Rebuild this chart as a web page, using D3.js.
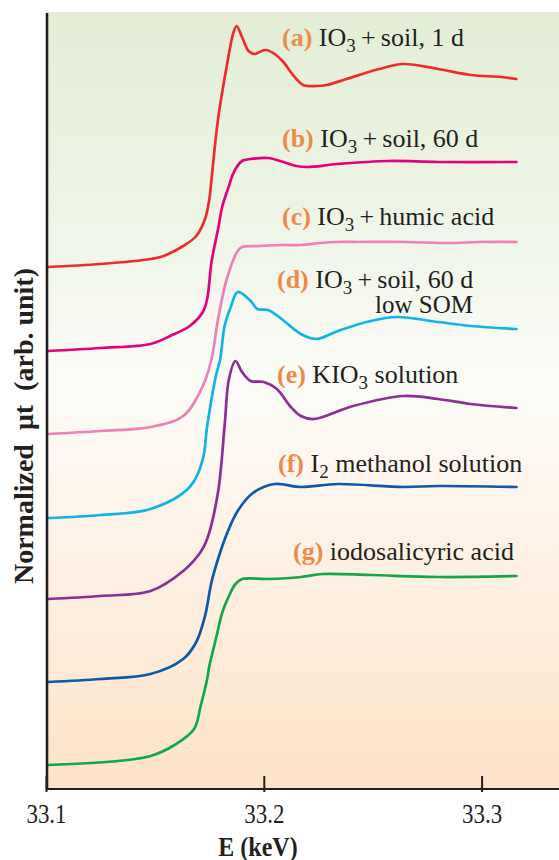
<!DOCTYPE html>
<html>
<head>
<meta charset="utf-8">
<script src="https://cdn.jsdelivr.net/npm/d3@7"></script>
<style>
  html, body { margin: 0; padding: 0; background: #ffffff; }
  svg { display: block; }
  text { font-family: "Liberation Serif", "Times New Roman", serif; fill: #231f20; }
</style>
</head>
<body>
<svg id="chart" width="559" height="860"></svg>
<script>
// ---------- DATA (energy in keV, normalized absorption in arbitrary units incl. vertical offset) ----------
const seriesA_E  = [33.101,33.125,33.148,33.154,33.163,33.169,33.173,33.175,33.176,33.179,33.183,33.186,33.1875,33.190,33.193,33.196,33.198,33.201,33.205,33.209,33.212,33.215,33.218,33.224,33.229,33.238,33.253,33.264,33.280,33.295,33.309,33.316];
const seriesA_mu = [5.22,5.25,5.30,5.33,5.43,5.53,5.70,5.90,6.10,6.70,7.23,7.56,7.63,7.52,7.38,7.35,7.37,7.39,7.35,7.27,7.18,7.10,7.04,7.03,7.04,7.10,7.20,7.25,7.20,7.14,7.12,7.10];

const seriesB_E  = [33.101,33.125,33.148,33.157,33.166,33.172,33.174,33.176,33.179,33.181,33.184,33.185,33.187,33.190,33.194,33.202,33.209,33.215,33.220,33.234,33.257,33.280,33.316];
const seriesB_mu = [4.38,4.41,4.45,4.53,4.63,4.77,4.90,5.27,5.60,5.83,6.03,6.10,6.20,6.28,6.30,6.31,6.27,6.23,6.22,6.25,6.28,6.27,6.27];

const seriesC_E  = [33.101,33.125,33.148,33.163,33.172,33.176,33.179,33.183,33.188,33.190,33.198,33.209,33.217,33.226,33.234,33.244,33.264,33.286,33.299,33.316];
const seriesC_mu = [3.55,3.58,3.62,3.73,4.03,4.30,4.70,5.10,5.38,5.42,5.43,5.44,5.44,5.46,5.47,5.47,5.47,5.46,5.47,5.47];

const seriesD_E  = [33.101,33.125,33.148,33.166,33.172,33.174,33.178,33.180,33.182,33.185,33.188,33.194,33.197,33.202,33.207,33.217,33.224,33.234,33.249,33.261,33.280,33.295,33.316];
const seriesD_mu = [2.71,2.74,2.80,3.02,3.30,3.63,4.13,4.30,4.63,4.83,4.97,4.88,4.80,4.79,4.72,4.55,4.50,4.58,4.68,4.72,4.67,4.63,4.60];

const seriesE_E  = [33.101,33.125,33.148,33.163,33.171,33.174,33.179,33.182,33.184,33.187,33.190,33.194,33.200,33.206,33.212,33.217,33.223,33.241,33.264,33.280,33.295,33.316];
const seriesE_mu = [1.90,1.93,1.98,2.18,2.37,2.50,2.97,3.63,4.10,4.28,4.17,4.08,4.07,4.00,3.83,3.73,3.70,3.83,3.93,3.90,3.85,3.81];

const seriesF_E  = [33.101,33.125,33.148,33.163,33.169,33.173,33.176,33.179,33.183,33.188,33.195,33.205,33.217,33.234,33.264,33.280,33.316];
const seriesF_mu = [1.07,1.10,1.15,1.30,1.47,1.73,2.07,2.30,2.55,2.78,2.96,3.05,3.02,3.05,3.02,3.03,3.02];

const seriesG_E  = [33.101,33.133,33.148,33.159,33.168,33.171,33.174,33.175,33.178,33.181,33.184,33.187,33.190,33.202,33.217,33.227,33.249,33.280,33.316];
const seriesG_mu = [0.24,0.28,0.33,0.44,0.60,0.83,1.10,1.23,1.50,1.77,1.93,2.05,2.10,2.10,2.12,2.15,2.14,2.12,2.13];

const seriesColors = ["#ee2b2e","#e5007d","#ef7fb6","#12b3e6","#8b2f97","#0b59a8","#10a84b"];
const seriesLetters = ["(a)","(b)","(c)","(d)","(e)","(f)","(g)"];
const xTickValues = [33.1, 33.2, 33.3];
const xTickLabels = ["33.1","33.2","33.3"];
const xTitle = "E (keV)";
const yTitle = "Normalized  \u03bct  (arb. unit)";

// ---------- SETUP ----------
const svg = d3.select("#chart");
const W = 559, H = 860;
const plot = { left: 46, right: 560, top: 12, bottom: 789 };

const x = d3.scaleLinear().domain([33.1, 33.336]).range([plot.left, plot.right]);
const y = d3.scaleLinear().domain([0, 7.77]).range([plot.bottom, plot.top]);

// background gradient
const defs = svg.append("defs");
const grad = defs.append("linearGradient").attr("id", "bg").attr("x1", 0).attr("y1", 0).attr("x2", 0).attr("y2", 1);
grad.append("stop").attr("offset", "0%").attr("stop-color", "#e3eed5");
grad.append("stop").attr("offset", "25%").attr("stop-color", "#edf4e5");
grad.append("stop").attr("offset", "48%").attr("stop-color", "#fbfcf7");
grad.append("stop").attr("offset", "60%").attr("stop-color", "#fef6ee");
grad.append("stop").attr("offset", "100%").attr("stop-color", "#fde3c8");

svg.append("rect")
  .attr("x", plot.left).attr("y", plot.top)
  .attr("width", W - plot.left).attr("height", plot.bottom - plot.top)
  .attr("fill", "url(#bg)");

// ---------- CURVES ----------
const allSeries = [
  [seriesA_E, seriesA_mu], [seriesB_E, seriesB_mu], [seriesC_E, seriesC_mu],
  [seriesD_E, seriesD_mu], [seriesE_E, seriesE_mu], [seriesF_E, seriesF_mu],
  [seriesG_E, seriesG_mu]
];
const line = d3.line()
  .x(d => x(d[0]))
  .y(d => y(d[1]))
  .curve(d3.curveCatmullRom.alpha(0.5));

allSeries.forEach((s, i) => {
  const pts = s[0].map((e, k) => [e, s[1][k]]);
  svg.append("path")
    .datum(pts)
    .attr("d", line)
    .attr("fill", "none")
    .attr("stroke", seriesColors[i])
    .attr("stroke-width", 2.7)
    .attr("stroke-linejoin", "round")
    .attr("stroke-linecap", "round");
});

// ---------- AXES ----------
const xAxis = d3.axisBottom(x)
  .tickValues(xTickValues)
  .tickFormat((d, i) => xTickLabels[i])
  .tickSize(0)
  .tickPadding(0);

const gx = svg.append("g").attr("transform", `translate(0,${plot.bottom})`).call(xAxis);
gx.select(".domain").remove();
gx.selectAll(".tick text")
  .attr("y", 0)
  .attr("dy", 0)
  .attr("transform", "translate(0,34) scale(1,1.15)")
  .style("font-size", "23px")
  .style("font-family", "'Liberation Serif', 'Times New Roman', serif")
  .attr("fill", "#231f20");
gx.selectAll(".tick").append("line")
  .attr("x1", 0).attr("x2", 0)
  .attr("y1", -13).attr("y2", 3)
  .attr("stroke", "#231f20").attr("stroke-width", 2);

// x axis baseline
svg.append("line")
  .attr("x1", plot.left).attr("x2", W)
  .attr("y1", plot.bottom).attr("y2", plot.bottom)
  .attr("stroke", "#231f20").attr("stroke-width", 2.2);

// y axis line
svg.append("line")
  .attr("x1", plot.left + 1).attr("x2", plot.left + 1)
  .attr("y1", plot.top + 1).attr("y2", plot.bottom)
  .attr("stroke", "#231f20").attr("stroke-width", 2.6);

// axis titles
svg.append("text")
  .attr("transform", "translate(258,856) scale(1,1.1)")
  .attr("text-anchor", "middle")
  .style("font-size", "24px").style("font-weight", "bold")
  .text(xTitle);

svg.append("text")
  .attr("transform", "translate(33,426) rotate(-90)")
  .attr("text-anchor", "middle")
  .style("font-size", "28px").style("font-weight", "bold")
  .attr("xml:space", "preserve")
  .text(yTitle);

// ---------- LABELS ----------
const labelSpecs = [
  { letter: 0, x: 282, y: 46,  parts: [["IO"], ["3","sub"], ["\u2009+\u2009soil, 1 d"]] },
  { letter: 1, x: 282, y: 147, parts: [["IO"], ["3","sub"], ["\u2009+\u2009soil, 60 d"]] },
  { letter: 2, x: 282, y: 225, parts: [["IO"], ["3","sub"], ["\u2009+\u2009humic acid"]] },
  { letter: 3, x: 277, y: 288, parts: [["IO"], ["3","sub"], ["\u2009+\u2009soil, 60 d"]] },
  { letter: 4, x: 277, y: 383, parts: [["KIO"], ["3","sub"], [" solution"]] },
  { letter: 5, x: 278, y: 472, parts: [["I"], ["2","sub"], [" methanol solution"]] },
  { letter: 6, x: 293, y: 560, parts: [["iodosalicyric acid"]] }
];

labelSpecs.forEach(spec => {
  const t = svg.append("text")
    .attr("x", spec.x).attr("y", spec.y)
    .style("font-size", "26px")
    .attr("xml:space", "preserve");
  t.append("tspan")
    .style("font-weight", "bold")
    .attr("fill", "#ef8a4a")
    .text(seriesLetters[spec.letter] + " ");
  let prevSub = false;
  spec.parts.forEach(p => {
    const ts = t.append("tspan").text(p[0]);
    if (p[1] === "sub") {
      ts.attr("dy", 6).style("font-size", "19px");
      prevSub = true;
    } else if (prevSub) {
      ts.attr("dy", -6);
      prevSub = false;
    }
  });
});

// second line of label (d)
svg.append("text")
  .attr("x", 375).attr("y", 313)
  .style("font-size", "25px")
  .text("low SOM");
</script>
</body>
</html>
